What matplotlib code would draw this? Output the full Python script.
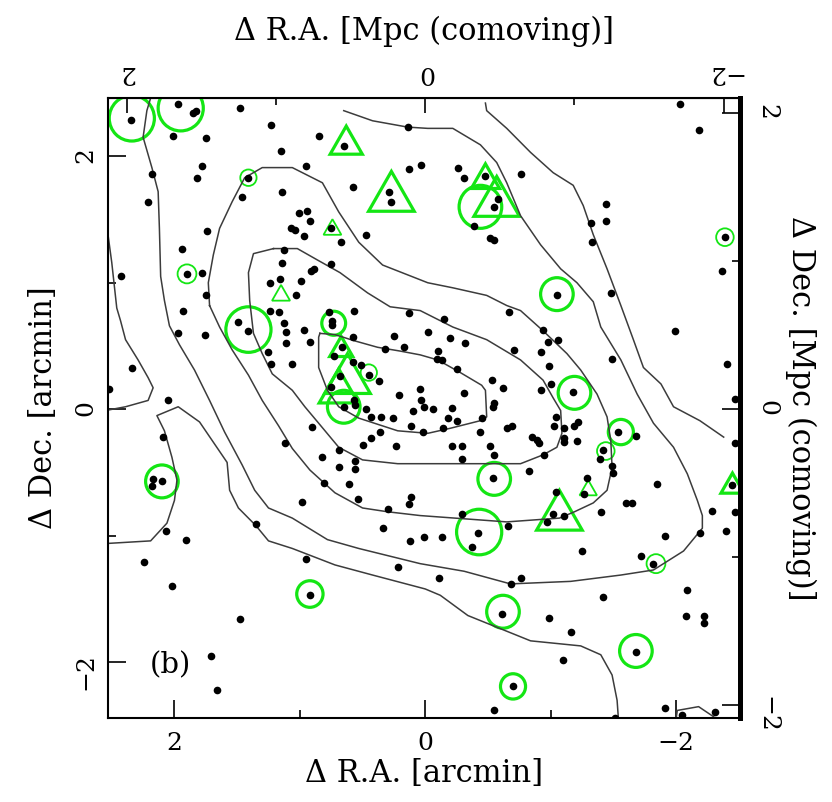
import matplotlib
matplotlib.use('Agg')
import matplotlib.pyplot as plt
from matplotlib.patches import Circle, RegularPolygon

plt.rcParams['font.family'] = 'DejaVu Serif'

# galaxy positions (arcmin)
gal_xy = [(2.35,2.29),(1.97,2.41),(1.85,2.34),(1.83,2.36),(1.48,2.38),(1.23,2.25),(0.85,2.16),(0.65,2.08),
          (2.01,2.16),(1.75,2.14),(1.15,2.04),(0.14,2.23),(0.13,1.90),(0.03,1.93),(1.78,1.92),(1.82,1.83),
          (2.18,1.86),(2.21,1.64),(1.41,1.83),(0.95,1.92),(1.14,1.72),(0.58,1.76),(1.46,1.68),(0.29,1.72),
          (0.27,1.64),(1.01,1.55),(0.94,1.57),(0.92,1.49),(1.07,1.43),(1.04,1.42),(0.97,1.37),(0.75,1.43),
          (0.67,1.32),(0.47,1.38),(1.74,1.41),(1.94,1.27),(1.90,1.07),(1.78,1.08),(2.43,1.05),(1.13,1.26),
          (1.14,1.16),(1.24,1.00),(1.16,1.03),(0.99,1.01),(0.91,1.09),(0.89,1.11),(0.75,1.15),(1.03,0.90),
          (1.75,0.90),
          (-2.03,2.41),(-2.18,2.21),(-0.26,1.91),(-0.31,1.83),(-0.48,1.84),(-0.76,1.86),(-0.58,1.66),
          (-0.55,1.60),(-0.39,1.45),(-0.52,1.35),(-0.55,1.34),(-1.44,1.62),(-1.44,1.49),(-1.32,1.47),
          (-1.33,1.32),(-2.39,1.36),(-2.37,1.09),(-1.05,0.90),(-1.48,0.92),
          (1.93,0.78),(1.49,0.69),(1.41,0.62),(1.24,0.78),(1.17,0.77),(1.13,0.68),(1.11,0.61),(1.11,0.52),
          (0.97,0.63),(0.92,0.53),(1.25,0.45),(1.23,0.36),(1.06,0.36),(0.77,0.77),(0.74,0.70),(0.74,0.67),
          (0.57,0.78),(0.13,0.76),(1.97,0.60),(1.76,0.59),(0.58,0.57),(0.25,0.58),(0.17,0.49),(0.32,0.48),
          (0.73,0.42),(0.66,0.49),(0.58,0.37),(0.51,0.35),(0.45,0.27),(0.37,0.22),(0.68,0.26),(0.75,0.18),
          (0.65,0.02),(0.57,0.07),(0.56,0.03),(0.47,0.00),(0.43,-0.06),(0.35,-0.06),(0.26,-0.07),(0.21,0.11),
          (0.10,-0.01),(0.04,0.16),(0.03,0.07),(0.01,0.02),(0.11,-0.13),(0.02,-0.18),(0.36,-0.18),(0.43,-0.23),
          (0.50,-0.28),(0.23,-0.29),(0.90,-0.14),(1.12,-0.27),(0.82,-0.38),(0.69,-0.32),(0.69,-0.46),
          (0.56,-0.41),(0.56,-0.47),(0.81,-0.58),(0.61,-0.59),(0.54,-0.71),(0.98,-0.73),(0.30,-0.79),
          (0.13,-0.75),(0.11,-0.69),(2.05,0.07),(2.52,0.16),(2.34,0.33),(2.09,-0.22),(2.17,-0.55),
          (2.10,-0.57),(2.18,-0.61),
          (-0.67,0.77),(-0.15,0.71),(-0.02,0.61),(-0.20,0.56),(-0.32,0.52),(-0.94,0.63),(-0.98,0.53),
          (-1.06,0.55),(-0.71,0.47),(-0.92,0.45),(-0.10,0.46),(-0.13,0.39),(-0.09,0.40),(-0.25,0.32),
          (-0.99,0.34),(-1.49,0.40),(-1.99,0.62),(-2.41,0.36),(-0.53,0.23),(-0.62,0.17),(-0.31,0.13),
          (-0.92,0.15),(-1.00,0.20),(-1.18,0.14),(-0.55,0.05),(-0.54,0.02),(-0.06,0.00),(-0.21,0.01),
          (-0.18,-0.07),(-0.25,-0.09),(-0.45,-0.07),(-0.14,-0.15),(-0.44,-0.18),(-0.65,-0.15),(-0.69,-0.13),
          (-1.04,-0.06),(-1.03,-0.13),(-1.11,-0.15),(-1.19,-0.13),(-1.22,-0.10),(-0.85,-0.22),(-0.89,-0.24),
          (-0.91,-0.27),(-1.11,-0.23),(-1.11,-0.26),(-1.21,-0.25),(-1.54,-0.18),(-1.68,-0.21),(-1.42,-0.32),
          (-1.39,-0.39),(-1.49,-0.45),(-1.50,-0.50),(-0.21,-0.29),(-0.29,-0.29),(-0.52,-0.29),(-0.55,-0.36),
          (-0.29,-0.39),(-0.95,-0.36),(-0.83,-0.49),(-0.54,-0.54),(-1.29,-0.54),(-1.27,-0.67),(-1.04,-0.65),
          (-1.85,-0.59),(-1.60,-0.74),(-1.65,-0.74),(-1.40,-0.81),(-2.29,-0.80),(-2.47,0.08),(-2.47,-0.27),
          (-2.47,-0.81),(-2.45,-0.60),
          (-0.29,-0.83),(-0.42,-0.98),(-0.37,-1.09),(0.01,-1.01),(-0.13,-1.01),(-0.66,-0.92),(-0.97,-0.89),
          (-1.02,-0.83),(-1.11,-0.84),(-1.91,-1.00),(-2.19,-0.98),(-2.40,-0.96),(-1.25,-1.12),(-1.72,-1.16),
          (-1.82,-1.22),(-0.11,-1.33),(-0.76,-1.33),(-0.68,-1.38),(-1.42,-1.48),(-2.09,-1.43),(-0.61,-1.62),
          (-0.99,-1.65),(-1.16,-1.76),(-2.08,-1.63),(-2.22,-1.63),(-2.22,-1.69),(-1.68,-1.92),(-1.10,-1.98),
          (-0.70,-2.19),(-0.55,-2.38),(-1.51,-2.44),(-1.91,-2.36),(-2.05,-2.42),(-2.31,-2.39),
          (2.07,-0.96),(1.91,-1.03),(2.24,-1.21),(2.02,-1.40),(1.48,-1.66),(1.35,-0.91),(0.95,-1.18),
          (0.92,-1.47),(1.71,-1.95),(1.66,-2.22),(0.34,-0.94),(0.12,-1.04),(0.22,-1.25)]

# green circles: x, y, radius (arcmin)
circ_xyr = [(2.34,2.30,0.18),(1.95,2.38,0.18),(1.41,1.83,0.065),(1.90,1.07,0.075),(1.41,0.63,0.18),
            (0.73,0.68,0.095),(0.65,0.02,0.13),(0.45,0.29,0.065),(2.10,-0.57,0.13),(-0.44,1.60,0.17),
            (-2.39,1.36,0.07),(-1.05,0.91,0.13),(-1.19,0.13,0.13),(-1.56,-0.18,0.10),(-1.44,-0.33,0.07),
            (-0.55,-0.55,0.13),(-0.43,-0.97,0.18),(-1.84,-1.22,0.075),(-0.62,-1.60,0.13),(-1.68,-1.91,0.13),
            (-0.70,-2.19,0.10),(0.92,-1.46,0.105)]

# green triangles: x, y, size (arcmin)
tri_xyr = [(0.63,2.09,0.148),(0.27,1.67,0.21),(0.74,1.42,0.082),(1.15,0.90,0.083),(-0.48,1.81,0.13),
           (-0.57,1.63,0.21),(0.67,0.47,0.106),(0.62,0.23,0.21),(0.69,0.14,0.18),(-1.07,-0.85,0.21),
           (-1.30,-0.64,0.08),(-2.45,-0.61,0.106)]

# density contours
c1 = [(0.84,0.60),(0.85,0.57),(0.85,0.33),(0.78,0.15),(0.69,0.02),(0.53,-0.07),(0.22,-0.17),(-0.02,-0.19),
      (-0.20,-0.15),(-0.44,-0.09),(-0.49,-0.06),(-0.48,0.15),(-0.45,0.19),(-0.28,0.29),(-0.10,0.39),
      (0.04,0.43),(0.20,0.46),(0.38,0.49),(0.56,0.54),(0.72,0.59),(0.84,0.60)]
c2 = [(1.21,1.27),(1.02,1.27),(0.86,1.18),(0.68,1.08),(0.46,0.92),(0.28,0.81),(0.04,0.78),(-0.22,0.65),
      (-0.49,0.55),(-0.76,0.39),(-0.94,0.23),(-1.02,0.09),(-1.08,-0.01),(-1.09,-0.19),(-1.05,-0.30),
      (-0.94,-0.36),(-0.76,-0.43),(-0.36,-0.43),(-0.02,-0.43),(0.22,-0.43),(0.50,-0.40),(0.69,-0.30),
      (0.85,-0.11),(0.96,0.02),(1.06,0.15),(1.22,0.28),(1.30,0.44),(1.37,0.60),(1.40,0.86),(1.41,1.08),
      (1.37,1.23),(1.21,1.27)]
c3 = [(1.72,0.82),(1.73,1.00),(1.69,1.22),(1.64,1.43),(1.54,1.64),(1.44,1.83),(1.30,1.91),(1.06,1.91),
      (0.82,1.79),(0.69,1.56),(0.53,1.32),(0.34,1.14),(-0.02,1.00),(-0.22,0.96),(-0.49,0.90),(-0.65,0.82),
      (-0.76,0.78),(-0.94,0.62),(-1.13,0.44),(-1.24,0.31),(-1.37,0.12),(-1.45,-0.06),(-1.48,-0.25),
      (-1.49,-0.46),(-1.45,-0.64),(-1.34,-0.74),(-1.19,-0.81),(-1.07,-0.86),(-0.65,-0.89),(0.04,-0.84),
      (0.30,-0.81),(0.50,-0.78),(0.72,-0.66),(0.92,-0.48),(1.06,-0.31),(1.17,-0.13),(1.30,0.07),
      (1.41,0.27),(1.54,0.47),(1.64,0.65),(1.72,0.82)]
c4 = [(0.65,2.36),(0.42,2.28),(0.14,2.23),(-0.02,2.22),(-0.22,2.22),(-0.44,2.09),(-0.57,1.95),
      (-0.65,1.79),(-0.76,1.53),(-0.92,1.30),(-1.08,1.11),(-1.21,1.00),(-1.34,0.85),(-1.40,0.65),
      (-1.56,0.39),(-1.69,0.12),(-1.82,-0.11),(-1.98,-0.30),(-2.09,-0.51),(-2.17,-0.72),(-2.21,-0.84),
      (-2.21,-0.94),(-2.06,-1.12),(-1.82,-1.27),(-1.56,-1.31),(-1.16,-1.36),(-0.68,-1.38),(-0.31,-1.28),
      (0.04,-1.22),(0.53,-1.10),(0.78,-1.03),(1.06,-0.86),(1.25,-0.78),(1.36,-0.64),(1.46,-0.44),
      (1.60,-0.18),(1.72,0.07),(1.84,0.31),(1.96,0.51),(2.04,0.66),(2.08,0.86),(2.11,1.05),(2.12,1.43),
      (2.13,1.72),(2.18,1.91),(2.25,2.15),(2.22,2.36),(2.19,2.46)]
c5a = [(-0.48,2.42),(-0.49,2.36),(-0.65,2.22),(-0.84,2.03),(-1.02,1.87),(-1.18,1.77),(-1.26,1.61),
       (-1.34,1.38),(-1.45,1.11),(-1.56,0.82),(-1.66,0.55),(-1.74,0.33),(-1.88,0.20),(-1.98,0.02),
       (-2.19,-0.09),(-2.38,-0.22)]
c5b = [(-1.54,-2.44),(-1.53,-2.30),(-1.49,-2.10),(-1.40,-1.94),(-1.24,-1.87),(-0.84,-1.83),(-0.34,-1.63),
       (-0.12,-1.47),(0.0,-1.42),(0.42,-1.31),(0.72,-1.23),(1.06,-1.10),(1.25,-1.04),(1.35,-0.92),
       (1.49,-0.78),(1.56,-0.64),(1.58,-0.42),(1.80,-0.10),(1.97,0.02),(2.14,-0.05),(2.08,-0.17),
       (2.02,-0.38),(1.98,-0.56),(2.00,-0.72),(2.06,-0.90),(2.19,-1.04),(2.53,-1.06)]
c5c = [(2.53,1.38),(2.50,1.16),(2.46,0.80),(2.43,0.70),(2.39,0.55),(2.29,0.39),(2.21,0.25),(2.17,0.17),
       (2.21,0.07),(2.39,0.02),(2.55,-0.01)]
c6 = [(-2.00,-2.45),(-2.01,-2.38),(-2.18,-2.35),(-2.30,-2.43)]
contours = [c1, c2, c3, c4, c5a, c5b, c5c, c6]

ticks = [2, 0, -2]
tick_labels = ['2', '0', '\u22122']
minor_ticks = [1, -1]
fx, fy = 1.19, 1.17   # arcmin per comoving Mpc as drawn on the top / right axes

green = '#14e614'

fig = plt.figure(figsize=(8.32, 8.02), dpi=100)
ax = fig.add_axes([0.1298, 0.1047, 0.7596, 0.7731])

for c in contours:
    xs, ys = zip(*c)
    ax.plot(xs, ys, color='#3c3c3c', lw=1.1)

gx, gy = zip(*gal_xy)
ax.plot(gx, gy, 'o', color='black', ms=5.5, mec='none')

for x, y, r in circ_xyr:
    ax.add_patch(Circle((x, y), r, fill=False, ec=green, lw=2.3 if r > 0.09 else 1.3))
for x, y, r in tri_xyr:
    ax.add_patch(RegularPolygon((x, y), 3, radius=r, fill=False, ec=green, lw=2.3 if r > 0.09 else 1.3))

ax.text(2.03, -2.02, '(b)', fontsize=21, ha='center', va='center')

ax.set_xlim(2.53, -2.51)
ax.set_ylim(-2.44, 2.46)
ax.set_xticks(ticks)
ax.set_xticklabels(tick_labels)
ax.set_xticks(minor_ticks, minor=True)
ax.set_yticks(ticks)
ax.set_yticklabels(tick_labels)
ax.set_yticks(minor_ticks, minor=True)
ax.tick_params(which='both', direction='in', labelsize=18)
ax.tick_params(which='major', length=13, width=1.2)
ax.tick_params(which='minor', length=6, width=1.2)
ax.tick_params(axis='x', pad=10)
ax.tick_params(axis='y', labelrotation=90, pad=8)
ax.set_xlabel('\u0394 R.A. [arcmin]', fontsize=22, labelpad=2)
ax.set_ylabel('\u0394 Dec. [arcmin]', fontsize=22, labelpad=11)
for s in ['left', 'bottom', 'top']:
    ax.spines[s].set_linewidth(1.5)
ax.spines['right'].set_linewidth(3.5)

secx = ax.secondary_xaxis('top', functions=(lambda a: a / fx, lambda m: m * fx))
secx.set_xticks(ticks)
secx.set_xticklabels(tick_labels)
secx.set_xticks(minor_ticks, minor=True)
secx.tick_params(which='both', direction='in', labelsize=18, labelrotation=180, pad=10)
secx.tick_params(which='major', length=11, width=1.2)
secx.tick_params(which='minor', length=5, width=1.2)
secx.set_xlabel('\u0394 R.A. [Mpc (comoving)]', fontsize=22, labelpad=15)

secy = ax.secondary_yaxis('right', functions=(lambda a: a / fy, lambda m: m * fy))
secy.set_yticks(ticks)
secy.set_yticklabels(tick_labels)
secy.set_yticks(minor_ticks, minor=True)
secy.tick_params(which='both', direction='in', labelsize=18, labelrotation=-90, pad=11)
secy.tick_params(which='major', length=13, width=1.2)
secy.tick_params(which='minor', length=6, width=1.2)
secy.set_ylabel('\u0394 Dec. [Mpc (comoving)]', fontsize=22, rotation=-90, labelpad=27)
secy.spines['right'].set_linewidth(3.5)

fig.savefig('out.png', dpi=100)
